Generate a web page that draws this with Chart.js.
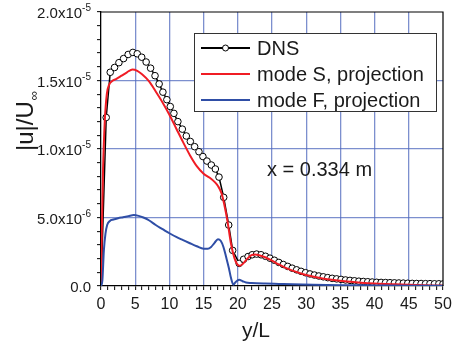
<!DOCTYPE html>
<html>
<head>
<meta charset="utf-8">
<script src="https://cdn.jsdelivr.net/npm/chart.js@4.4.1/dist/chart.umd.min.js"></script>
<style>
html, body { margin: 0; padding: 0; background: #fff; }
</style>
</head>
<body>
<canvas id="chart" width="455" height="348"></canvas>
<script>
// y/L positions and |u|/U_inf values (in units of 1e-6)
const dnsX = [0, 0.76, 1.35, 1.98, 2.62, 3.3, 3.97, 4.66, 5.3, 5.95, 6.6, 7.25, 7.9, 8.5, 9.05, 9.63, 10.13, 10.66,
	11.24, 11.89, 12.47, 13.06, 13.69, 14.32, 14.9, 15.49, 16.13, 16.72, 17.25, 17.94, 18.67, 19.25, 20.2, 20.85, 21.5, 22.1,
	22.75, 23.4, 24.05, 24.7, 25.35, 26.0, 26.65, 27.3, 27.95, 28.6, 29.25, 29.9, 30.55, 31.2, 31.85, 32.5, 33.15, 33.8,
	34.45, 35.1, 35.75, 36.4, 37.05, 37.7, 38.35, 39.0, 39.65, 40.3, 40.95, 41.6, 42.25, 42.9, 43.55, 44.2, 44.85, 45.5,
	46.15, 46.8, 47.45, 48.1, 48.75, 49.4, 50.0];
const dnsU = [0, 12.3, 15.6, 15.95, 16.3, 16.6, 16.9, 17.05, 16.95, 16.7, 16.35, 15.9, 15.35, 14.75, 14.15, 13.6, 13.1, 12.6,
	12.0, 11.45, 10.95, 10.55, 10.17, 9.8, 9.45, 9.12, 8.83, 8.54, 7.95, 6.47, 4.45, 2.6, 1.65, 1.95, 2.15, 2.28,
	2.33, 2.28, 2.17, 2.03, 1.88, 1.72, 1.57, 1.43, 1.3, 1.18, 1.07, 0.97, 0.88, 0.8, 0.73, 0.67, 0.61, 0.56,
	0.52, 0.48, 0.44, 0.41, 0.38, 0.35, 0.33, 0.31, 0.29, 0.27, 0.26, 0.25, 0.24, 0.23, 0.22, 0.21, 0.2, 0.19,
	0.18, 0.18, 0.17, 0.17, 0.16, 0.16, 0.15];

const modeSX = [0, 0.12, 0.3, 0.55, 0.85, 1.2, 1.6, 2.2, 3.0, 3.8, 4.6, 5.3, 6.0, 7.0, 8.0, 9.0, 10.0, 11.0, 12.0, 13.0,
	14.0, 15.0, 15.9, 16.6, 17.1, 17.6, 18.0, 18.5, 19.0, 19.5, 19.9, 20.3, 20.8, 21.4, 22.0, 22.5, 23.0, 24.0, 25.0,
	26.0, 27.0, 28.0, 29.0, 30.0, 32.0, 34.0, 36.0, 38.0, 40.0, 43.0, 46.0, 50.0];
const modeSU = [0, 4.0, 8.5, 12.0, 14.0, 14.7, 14.95, 15.1, 15.35, 15.6, 15.8, 15.7, 15.45, 14.95, 14.2, 13.4, 12.5, 11.5, 10.5, 9.55,
	8.75, 8.2, 7.9, 7.6, 7.3, 6.8, 6.0, 4.7, 3.1, 2.05, 1.6, 1.48, 1.65, 2.0, 2.25, 2.3, 2.27, 2.1, 1.85,
	1.57, 1.32, 1.12, 0.95, 0.8, 0.58, 0.43, 0.32, 0.24, 0.18, 0.12, 0.07, 0.03];

const modeFX = [0, 0.2, 0.42, 0.65, 0.9, 1.3, 1.8, 2.5, 3.2, 4.0, 4.8, 5.5, 6.2, 7.0, 8.0, 9.0, 10.0, 11.0, 12.0, 13.0,
	14.0, 15.0, 15.6, 16.1, 16.6, 17.1, 17.5, 17.9, 18.3, 18.7, 19.0, 19.35, 19.7, 20.2, 20.7, 21.2, 22.0, 24.0, 26.0,
	28.0, 31.0, 35.0, 40.0, 45.0, 50.0];
const modeFU = [0, 0.4, 2.6, 3.8, 4.45, 4.75, 4.85, 4.95, 5.02, 5.1, 5.18, 5.12, 5.0, 4.8, 4.45, 4.15, 3.85, 3.58, 3.35, 3.12,
	2.9, 2.72, 2.72, 2.85, 3.15, 3.42, 3.3, 2.85, 2.1, 1.3, 0.6, 0.1, 0.3, 0.45, 0.35, 0.25, 0.22, 0.18, 0.15,
	0.12, 0.09, 0.06, 0.04, 0.02, 0.01];

// axis labels
const xTickLabels = [0, 5, 10, 15, 20, 25, 30, 35, 40, 45, 50];
const yTickValues = [0, 5, 10, 15, 20];
const yTickMant = ['0.0', '5.0x10', '1.0x10', '1.5x10', '2.0x10'];
const yTickExp = ['', '-6', '-5', '-5', '-5'];
const legendLabels = ['DNS', 'mode S, projection', 'mode F, projection'];
const annotation = 'x = 0.334 m';

const FONT = 'Arial, "Liberation Sans", sans-serif';
const BLACK = '#000000', RED = '#f01c24', BLUE = '#2f4ea6';
const GRID = 'rgba(80,105,190,0.75)';

const pts = (xs, ys) => xs.map((x, i) => ({ x, y: ys[i] }));

// =========================
// text, legend, frame
// =========================
const decorPlugin = {
	id: 'decor',
	afterDraw(chart) {
		const { ctx, chartArea: a, scales: { x, y } } = chart;
		ctx.save();
		// top / right frame
		ctx.strokeStyle = BLACK; ctx.lineWidth = 1.2;
		ctx.beginPath(); ctx.moveTo(a.left, a.top); ctx.lineTo(a.right, a.top); ctx.lineTo(a.right, a.bottom); ctx.stroke();

		ctx.fillStyle = '#1a1a1a';
		// x tick labels
		ctx.font = '16px ' + FONT; ctx.textAlign = 'center'; ctx.textBaseline = 'alphabetic';
		xTickLabels.forEach(v => ctx.fillText(String(v), x.getPixelForValue(v), a.bottom + 23));
		// y tick labels with exponent
		ctx.textAlign = 'right';
		yTickValues.forEach((v, i) => {
			const py = y.getPixelForValue(v);
			ctx.font = '10px ' + FONT;
			const ew = yTickExp[i] ? ctx.measureText(yTickExp[i]).width : 0;
			if (yTickExp[i]) ctx.fillText(yTickExp[i], 91, py - 1);
			ctx.font = '15px ' + FONT;
			ctx.fillText(yTickMant[i], 91 - ew, py + 6);
		});
		// axis titles
		ctx.font = '21px ' + FONT; ctx.textAlign = 'center';
		ctx.fillText('y/L', 256, 337);
		ctx.save();
		ctx.translate(33, 151); ctx.rotate(-Math.PI / 2);
		ctx.textAlign = 'left'; ctx.font = '24px ' + FONT;
		ctx.fillText('|u|/U', 0, 0);
		const tw = ctx.measureText('|u|/U').width;
		ctx.font = '13px ' + FONT;
		ctx.fillText('\u221E', tw + 1, 5);
		ctx.restore();
		// annotation
		ctx.font = '20px ' + FONT; ctx.textAlign = 'left';
		ctx.fillText(annotation, 267, 176);

		// legend
		const lx = 194.5, ly = 33.5, lw = 242, lh = 78;
		ctx.fillStyle = '#fff'; ctx.fillRect(lx, ly, lw, lh);
		ctx.strokeStyle = '#333'; ctx.lineWidth = 1; ctx.strokeRect(lx, ly, lw, lh);
		const rows = [48, 74, 100];
		const cols = [BLACK, RED, BLUE];
		rows.forEach((ry, i) => {
			ctx.strokeStyle = cols[i]; ctx.lineWidth = 2;
			ctx.beginPath(); ctx.moveTo(201, ry); ctx.lineTo(250, ry); ctx.stroke();
			if (i === 0) {
				ctx.fillStyle = '#fff'; ctx.lineWidth = 1;
				ctx.beginPath(); ctx.arc(225.5, ry, 3, 0, Math.PI * 2); ctx.fill(); ctx.stroke();
			}
			ctx.fillStyle = '#1a1a1a'; ctx.font = '20px ' + FONT; ctx.textAlign = 'left';
			ctx.fillText(legendLabels[i], 257, ry + 7);
		});
		ctx.restore();
	}
};

// =========================
// CHART
// =========================
const majorX = v => v % 5 === 0 && v > 0 && v < 50;
const majorY = v => v % 5 === 0 && v > 0 && v < 20;

new Chart(document.getElementById('chart'), {
	type: 'scatter',
	data: {
		datasets: [
			{ label: legendLabels[0], data: pts(dnsX, dnsU), showLine: true, order: 3,
				borderColor: BLACK, borderWidth: 1.5, tension: 0,
				pointRadius: c => c.dataIndex === 0 ? 0 : 3.3, pointBackgroundColor: '#fff',
				pointBorderColor: BLACK, pointBorderWidth: 1 },
			{ label: legendLabels[1], data: pts(modeSX, modeSU), showLine: true, order: 2,
				borderColor: RED, borderWidth: 2, cubicInterpolationMode: 'monotone', pointRadius: 0 },
			{ label: legendLabels[2], data: pts(modeFX, modeFU), showLine: true, order: 1,
				borderColor: BLUE, borderWidth: 2, cubicInterpolationMode: 'monotone', pointRadius: 0 }
		]
	},
	options: {
		responsive: false, animation: false, devicePixelRatio: 1,
		layout: { padding: { top: 12, right: 12, left: 0, bottom: 0 } },
		plugins: { legend: { display: false }, tooltip: { enabled: false } },
		scales: {
			x: {
				type: 'linear', min: 0, max: 50,
				ticks: { stepSize: 1, display: false },
				grid: { color: c => majorX(c.tick.value) ? GRID : 'rgba(0,0,0,0)', lineWidth: 1.3,
					tickColor: BLACK, tickLength: 4, tickWidth: 1 },
				border: { color: BLACK, width: 1.3 },
				afterFit: s => { s.height = 62; }
			},
			y: {
				type: 'linear', min: 0, max: 20,
				ticks: { stepSize: 1, display: false },
				grid: { color: c => majorY(c.tick.value) ? GRID : 'rgba(0,0,0,0)', lineWidth: 1.3,
					tickColor: BLACK, tickLength: 4, tickWidth: 1 },
				border: { color: BLACK, width: 1.3 },
				afterFit: s => { s.width = 101; }
			}
		}
	},
	plugins: [decorPlugin]
});
</script>
</body>
</html>
